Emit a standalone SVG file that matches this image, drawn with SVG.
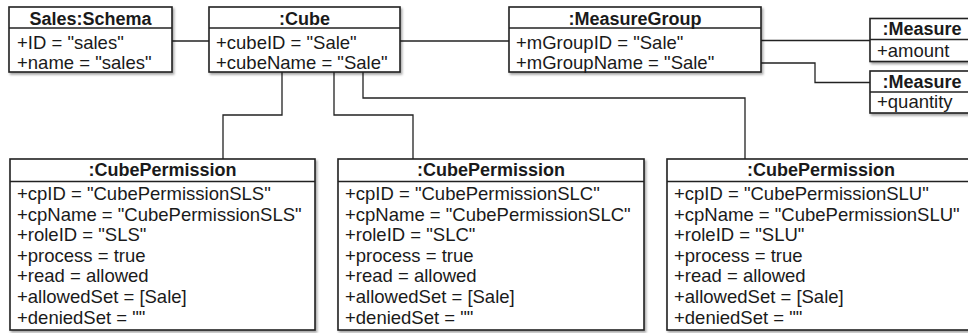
<svg xmlns="http://www.w3.org/2000/svg" width="968" height="333" viewBox="0 0 968 333">
  <defs>
    <filter id="shadow" x="-5%" y="-5%" width="115%" height="120%">
      <feDropShadow dx="1.5" dy="2" stdDeviation="1.2" flood-color="#000" flood-opacity="0.35"/>
    </filter>
  </defs>
  <style>
    .box { fill: #ffffff; stroke: #222; stroke-width: 1.6; filter: url(#shadow); }
    .div { stroke: #222; stroke-width: 1.4; }
    .title { font-family: "Liberation Sans", Arial, sans-serif; font-size: 18px; font-weight: bold; fill: #1a1a1a; text-anchor: middle; }
    .attr { font-family: "Liberation Sans", Arial, sans-serif; font-size: 18.5px; fill: #1a1a1a; }
    .link { fill: none; stroke: #222; stroke-width: 1.3; }
  </style>
  <rect width="968" height="333" fill="#ffffff"/>

  <!-- connectors -->
  <g id="connectors">
    <path class="link" d="M172,41 H209"/>
    <path class="link" d="M400,41 H509"/>
    <path class="link" d="M761,40.5 H870"/>
    <path class="link" d="M761,63 H815 V82.5 H870"/>
    <path class="link" d="M282,72 V115 H223 V159"/>
    <path class="link" d="M334,72 V115 H413 V159"/>
    <path class="link" d="M363,72 V98 H745 V159"/>
  </g>

  <!-- Sales:Schema -->
  <g id="schema">
    <rect class="box" x="9" y="7" width="163" height="65"/>
    <line class="div" x1="9" y1="28" x2="172" y2="28"/>
    <text class="title" x="90.5" y="25">Sales:Schema</text>
    <text class="attr" x="17" y="48.5">+ID = "sales"</text>
    <text class="attr" x="17" y="68.5">+name = "sales"</text>
  </g>

  <!-- :Cube -->
  <g id="cube">
    <rect class="box" x="209" y="7" width="191" height="65"/>
    <line class="div" x1="209" y1="28" x2="400" y2="28"/>
    <text class="title" x="304.5" y="25">:Cube</text>
    <text class="attr" x="216" y="48.5">+cubeID = "Sale"</text>
    <text class="attr" x="216" y="68.5">+cubeName = "Sale"</text>
  </g>

  <!-- :MeasureGroup -->
  <g id="measuregroup">
    <rect class="box" x="509" y="7" width="252" height="65"/>
    <line class="div" x1="509" y1="28" x2="761" y2="28"/>
    <text class="title" x="635" y="25">:MeasureGroup</text>
    <text class="attr" x="516" y="48.5">+mGroupID = "Sale"</text>
    <text class="attr" x="516" y="68.5">+mGroupName = "Sale"</text>
  </g>

  <!-- :Measure (amount) -->
  <g id="measure-amount">
    <rect class="box" x="870" y="18.5" width="104" height="43"/>
    <line class="div" x1="870" y1="39.5" x2="974" y2="39.5"/>
    <text class="title" x="922" y="35">:Measure</text>
    <text class="attr" x="877" y="56.5">+amount</text>
  </g>

  <!-- :Measure (quantity) -->
  <g id="measure-quantity">
    <rect class="box" x="870" y="71" width="104" height="42"/>
    <line class="div" x1="870" y1="92" x2="974" y2="92"/>
    <text class="title" x="922" y="87.5">:Measure</text>
    <text class="attr" x="877" y="108">+quantity</text>
  </g>

  <!-- :CubePermission SLS -->
  <g id="cp-sls">
    <rect class="box" x="10" y="159" width="305" height="171"/>
    <line class="div" x1="10" y1="181.5" x2="315" y2="181.5"/>
    <text class="title" x="162.5" y="176">:CubePermission</text>
    <text class="attr" x="17" y="200">+cpID = "CubePermissionSLS"</text>
    <text class="attr" x="17" y="220.6">+cpName = "CubePermissionSLS"</text>
    <text class="attr" x="17" y="241.2">+roleID = "SLS"</text>
    <text class="attr" x="17" y="261.8">+process = true</text>
    <text class="attr" x="17" y="282.4">+read = allowed</text>
    <text class="attr" x="17" y="303">+allowedSet = [Sale]</text>
    <text class="attr" x="17" y="323.6">+deniedSet = ""</text>
  </g>

  <!-- :CubePermission SLC -->
  <g id="cp-slc">
    <rect class="box" x="338" y="159" width="306" height="171"/>
    <line class="div" x1="338" y1="181.5" x2="644" y2="181.5"/>
    <text class="title" x="491" y="176">:CubePermission</text>
    <text class="attr" x="345" y="200">+cpID = "CubePermissionSLC"</text>
    <text class="attr" x="345" y="220.6">+cpName = "CubePermissionSLC"</text>
    <text class="attr" x="345" y="241.2">+roleID = "SLC"</text>
    <text class="attr" x="345" y="261.8">+process = true</text>
    <text class="attr" x="345" y="282.4">+read = allowed</text>
    <text class="attr" x="345" y="303">+allowedSet = [Sale]</text>
    <text class="attr" x="345" y="323.6">+deniedSet = ""</text>
  </g>

  <!-- :CubePermission SLU -->
  <g id="cp-slu">
    <rect class="box" x="667" y="159" width="308" height="171"/>
    <line class="div" x1="667" y1="181.5" x2="975" y2="181.5"/>
    <text class="title" x="821" y="176">:CubePermission</text>
    <text class="attr" x="674" y="200">+cpID = "CubePermissionSLU"</text>
    <text class="attr" x="674" y="220.6">+cpName = "CubePermissionSLU"</text>
    <text class="attr" x="674" y="241.2">+roleID = "SLU"</text>
    <text class="attr" x="674" y="261.8">+process = true</text>
    <text class="attr" x="674" y="282.4">+read = allowed</text>
    <text class="attr" x="674" y="303">+allowedSet = [Sale]</text>
    <text class="attr" x="674" y="323.6">+deniedSet = ""</text>
  </g>
</svg>
